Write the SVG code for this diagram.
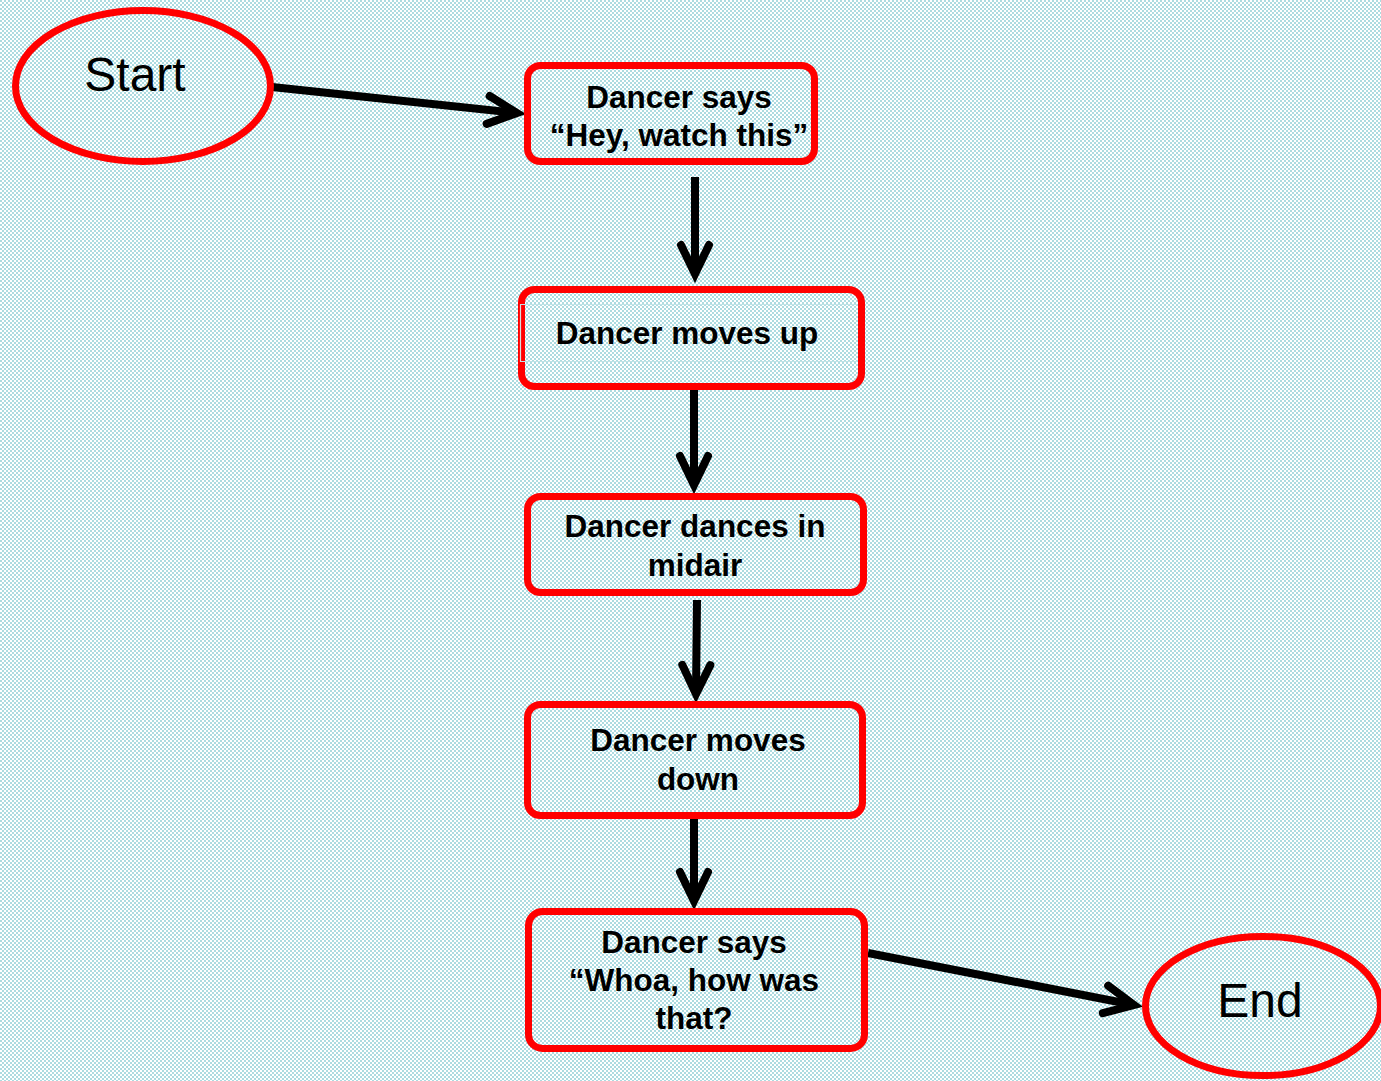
<svg xmlns="http://www.w3.org/2000/svg" width="1381" height="1081" viewBox="0 0 1381 1081">
  <defs>
    <pattern id="bg" width="4" height="4" patternUnits="userSpaceOnUse">
      <rect width="4" height="4" fill="#ffffff"/>
      <rect x="0" y="0" width="2" height="2" fill="#acdbe0"/>
      <rect x="2" y="2" width="2" height="2" fill="#acdbe0"/>
    </pattern>
    <marker id="arrow" markerUnits="userSpaceOnUse" markerWidth="60" markerHeight="60" refX="0" refY="0" viewBox="-40 -30 60 60" orient="auto" overflow="visible">
      <path d="M -29,-14 L 0,0 L -29,14" fill="none" stroke="#000" stroke-width="8" stroke-linecap="round" stroke-linejoin="miter"/>
    </marker>
    <style>
      .term { fill: none; stroke: #ff0000; stroke-width: 7; }
      .box { fill: none; stroke: #ff0000; stroke-width: 7; }
      .lbl { font-family: "Liberation Sans", Arial, sans-serif; font-weight: bold; font-size: 31.5px; fill: #000; text-anchor: middle; }
      .tlbl { font-family: "Liberation Sans", Arial, sans-serif; font-size: 48px; fill: #000; text-anchor: middle; }
      .conn { fill: none; stroke: #000; stroke-width: 8; marker-end: url(#arrow); }
    </style>
  </defs>
  <rect width="1381" height="1081" fill="url(#bg)"/>

  <g id="connectors">
    <line class="conn" x1="272" y1="87" x2="517" y2="113"/>
    <line class="conn" x1="695" y1="177" x2="695" y2="274"/>
    <line class="conn" x1="694" y1="386" x2="694" y2="485"/>
    <line class="conn" x1="697" y1="600" x2="696" y2="694"/>
    <line class="conn" x1="694" y1="817" x2="694" y2="901"/>
    <line class="conn" x1="868" y1="953" x2="1134" y2="1005"/>
  </g>

  <g id="start">
    <ellipse class="term" cx="143" cy="86" rx="127.5" ry="75.5"/>
    <text class="tlbl" x="135" y="91">Start</text>
  </g>

  <g id="node1">
    <rect class="box" x="527.5" y="65.5" width="287" height="96" rx="13"/>
    <text class="lbl" x="679" y="108">Dancer says</text>
    <text class="lbl" x="679" y="146">“Hey, watch this”</text>
  </g>

  <g id="node2">
    <rect class="box" x="521.5" y="289.5" width="340" height="97" rx="13"/>
    <line x1="521" y1="304.5" x2="857" y2="304.5" stroke="#bfe3e6" stroke-width="1.2"/>
    <line x1="521" y1="361.5" x2="857" y2="361.5" stroke="#bfe3e6" stroke-width="1.2"/>
    <line x1="520.5" y1="304" x2="520.5" y2="362" stroke="#d8dcdc" stroke-width="1.2"/>
    <text class="lbl" x="687" y="344">Dancer moves up</text>
  </g>

  <g id="node3">
    <rect class="box" x="527.5" y="496.5" width="336" height="96" rx="13"/>
    <text class="lbl" x="695" y="537">Dancer dances in</text>
    <text class="lbl" x="695" y="576">midair</text>
  </g>

  <g id="node4">
    <rect class="box" x="527.5" y="704.5" width="335" height="111" rx="13"/>
    <text class="lbl" x="698" y="751">Dancer moves</text>
    <text class="lbl" x="698" y="790">down</text>
  </g>

  <g id="node5">
    <rect class="box" x="528.5" y="911.5" width="336" height="137" rx="14"/>
    <text class="lbl" x="694" y="953">Dancer says</text>
    <text class="lbl" x="694" y="991">“Whoa, how was</text>
    <text class="lbl" x="694" y="1029">that?</text>
  </g>

  <g id="end">
    <ellipse class="term" cx="1263" cy="1006" rx="117.5" ry="69.5"/>
    <text class="tlbl" x="1260" y="1017">End</text>
  </g>
</svg>
